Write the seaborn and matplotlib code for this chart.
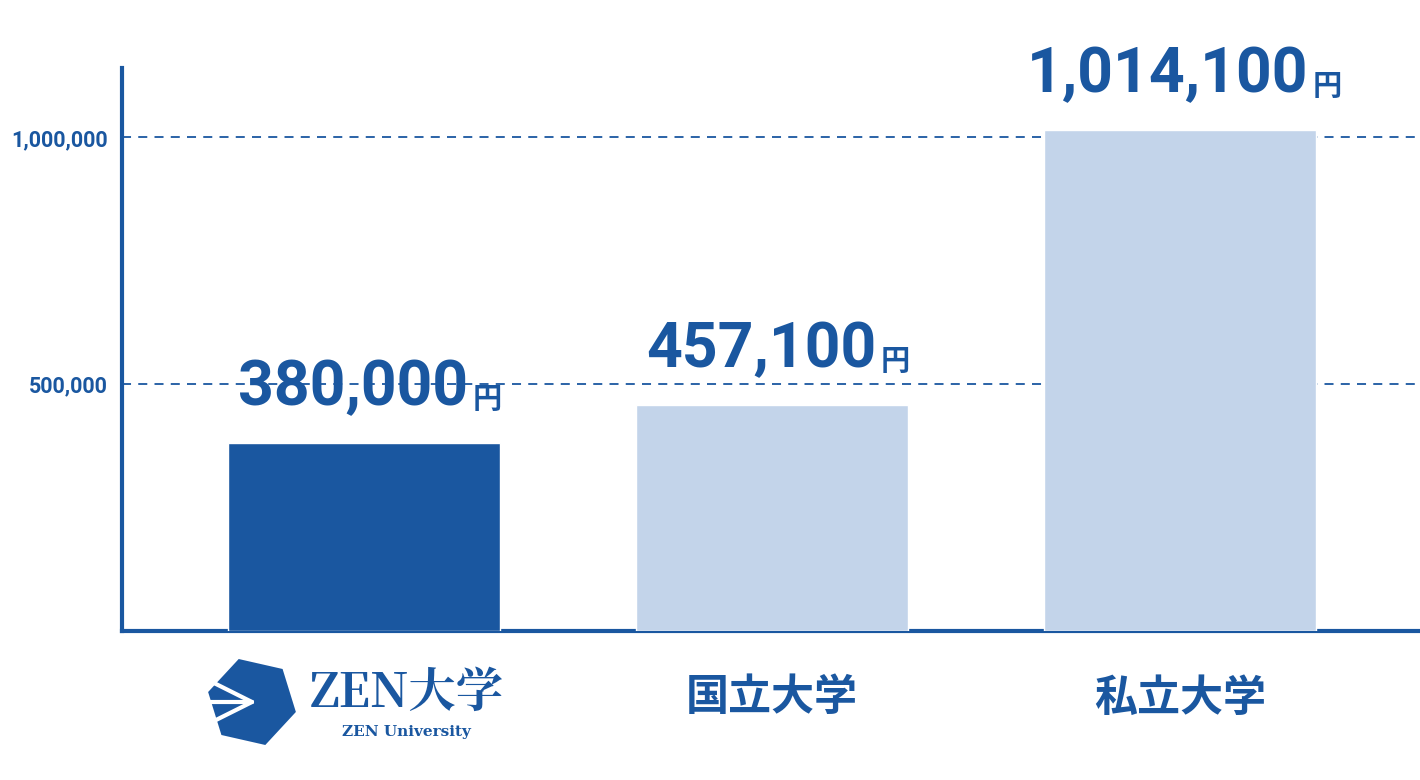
import matplotlib
matplotlib.use("Agg")
import matplotlib.pyplot as plt
import matplotlib.patches as mpatches
import seaborn as sns
import pandas as pd

# data
schools = ["ZEN大学", "国立大学", "私立大学"]
fees = [380000, 457100, 1014100]
fee_labels = ["380,000", "457,100", "1,014,100"]
yticks = [500000, 1000000]
ytick_labels = ["500,000", "1,000,000"]

BLUE = "#1a57a0"
LIGHT = "#c3d4ea"

sns.set_theme(style="white")
plt.rcParams["font.family"] = ["Noto Sans CJK JP", "DejaVu Sans"]

df = pd.DataFrame({"school": schools, "fee": fees})

fig = plt.figure(figsize=(14.2, 7.8), dpi=100)
ax = fig.add_axes([0.086, 0.191, 0.914, 0.722])
sns.barplot(data=df, x="school", y="fee", hue="school", saturation=1,
            palette=[BLUE, LIGHT, LIGHT], width=0.667, ax=ax, legend=False, zorder=3)

ax.set_xlim(-0.593, 2.588)
ax.set_ylim(0, 1141000)
ax.set_xlabel("")
ax.set_ylabel("")

for y in yticks:
    ax.axhline(y, color=BLUE, lw=1.3, ls=(0, (5, 4)), zorder=1)
ax.set_yticks(yticks)
ax.set_yticklabels(ytick_labels, fontfamily="Roboto", fontweight="bold",
                   fontsize=15.5, color=BLUE)
ax.tick_params(axis="y", length=0, pad=10)

for s in ["top", "right"]:
    ax.spines[s].set_visible(False)
for s in ["left", "bottom"]:
    ax.spines[s].set_color(BLUE)
    ax.spines[s].set_linewidth(3)

# value labels
for i, (v, lab) in enumerate(zip(fees, fee_labels)):
    shift = 0.255 + (0.06 if len(lab) > 7 else 0)
    ax.annotate(lab, (i + shift, v), xytext=(0, 18), textcoords="offset points",
                ha="right", va="bottom", fontfamily="Roboto", fontweight="bold",
                fontsize=45, color=BLUE)
    ax.annotate("円", (i + shift, v), xytext=(3, 21), textcoords="offset points",
                ha="left", va="bottom", fontweight="bold", fontsize=21, color=BLUE)

# x tick labels
ax.set_xticks([0, 1, 2])
ax.set_xticklabels(["", "国立大学", "私立大学"], fontweight="bold", fontsize=31, color=BLUE)
ax.tick_params(axis="x", length=0, pad=32)

# ZEN logo
tr = ax.get_xaxis_transform()
ax.text(0.105, -0.11, "ZEN大学", transform=tr, ha="center", va="center",
        fontfamily=["Noto Serif CJK JP", "DejaVu Serif"], fontweight="bold",
        fontsize=34, color=BLUE, clip_on=False)
ax.text(0.105, -0.18, "ZEN University", transform=tr, ha="center", va="center",
        fontfamily="DejaVu Serif", fontweight="bold", fontsize=11, color=BLUE,
        clip_on=False)
hexagon = mpatches.RegularPolygon((252, 78), 6, radius=45,
                                  orientation=0.3, transform=None,
                                  facecolor=BLUE, edgecolor="none", clip_on=False)
fig.patches.append(hexagon)
for dx, dy in [(-50, 25), (-50, 0), (-50, -25)]:
    fig.lines.append(plt.Line2D([252, 252 + dx], [78, 78 + dy], transform=None,
                                color="white", lw=3))

fig.savefig("out.png", dpi=100)
